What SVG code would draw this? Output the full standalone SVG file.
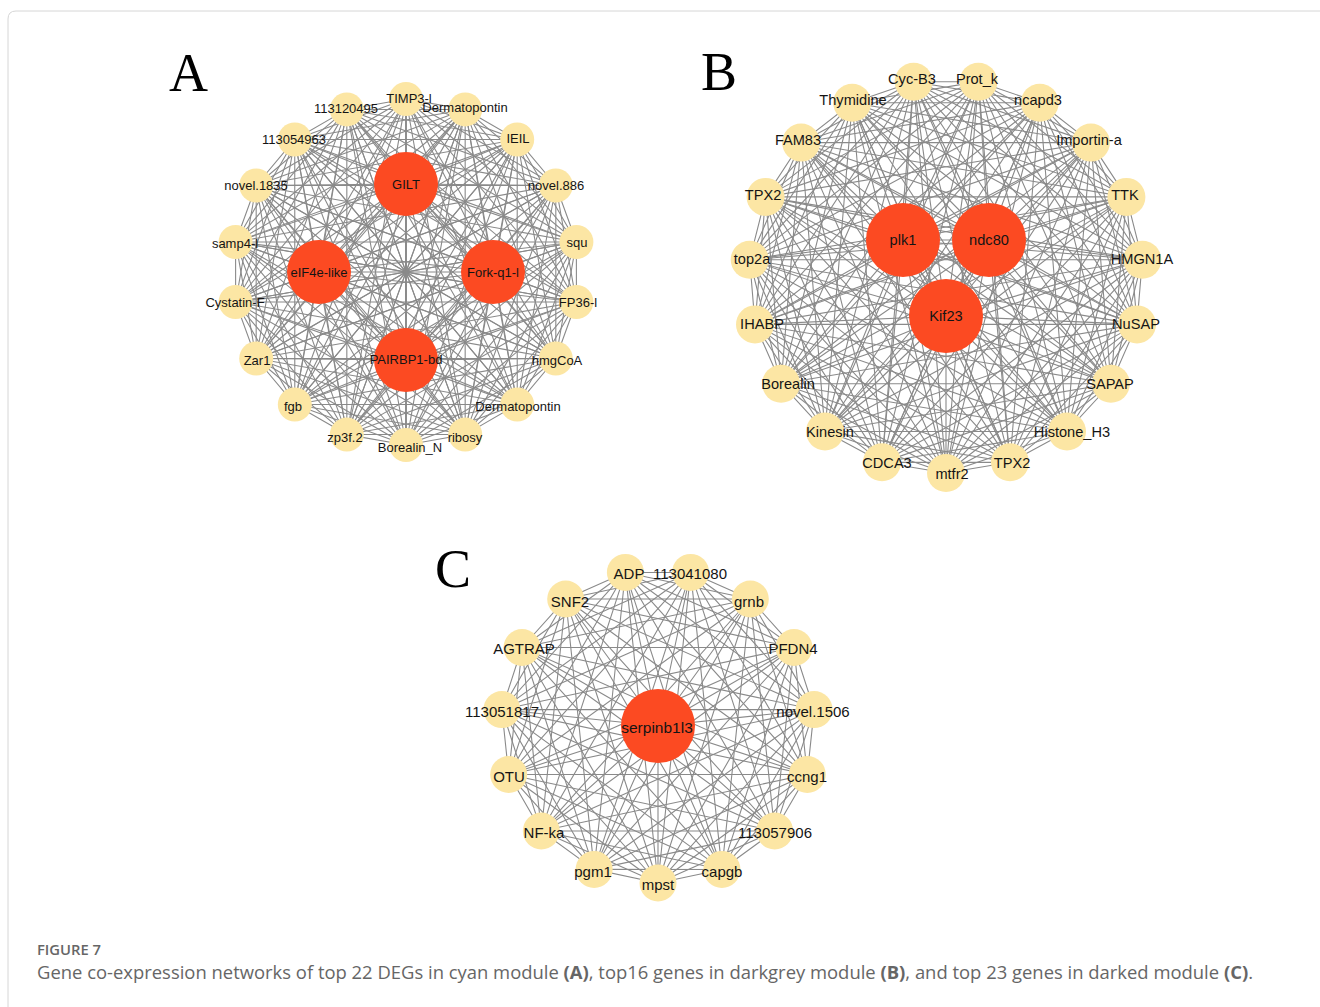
<svg xmlns="http://www.w3.org/2000/svg" xmlns:xlink="http://www.w3.org/1999/xlink" width="1320" height="1007" viewBox="0 0 1320 1007">
<style>
.e{fill:none;stroke:#8a8a8a;stroke-width:1.1}
.o{fill:#FCE6A4}
.i{fill:#FC4A22}
.la{font-family:"Liberation Sans",Arial,sans-serif;font-size:13px;text-anchor:middle;dominant-baseline:central;fill:#141414}
.lb{font-family:"Liberation Sans",Arial,sans-serif;font-size:14.6px;text-anchor:middle;dominant-baseline:central;fill:#141414}
.lc{font-family:"Liberation Sans",Arial,sans-serif;font-size:15px;text-anchor:middle;dominant-baseline:central;fill:#141414}
.big{font-family:"Liberation Serif","Times New Roman",serif;font-size:54px;fill:#000}
.cap{font-family:"Open Sans","Noto Sans",sans-serif;fill:#666}
</style>
<defs>
<path id="fanA" class="e" d="M0,-173L59.2,-162.6M0,-173L111.2,-132.5M0,-173L149.8,-86.5M0,-173L170.4,-30M0,-173L170.4,30M0,-173L149.8,86.5M0,-173L111.2,132.5M0,-173L59.2,162.6M0,-173L0,173"/>
<path id="starAG" class="e" d="M0,-88L0,-173M0,-88L59.2,-162.6M0,-88L111.2,-132.5M0,-88L149.8,-86.5M0,-88L170.4,-30M0,-88L170.4,30M0,-88L149.8,86.5M0,-88L111.2,132.5M0,-88L59.2,162.6M0,-88L0,173M0,-88L-59.2,162.6M0,-88L-111.2,132.5M0,-88L-149.8,86.5M0,-88L-170.4,30M0,-88L-170.4,-30M0,-88L-149.8,-86.5M0,-88L-111.2,-132.5M0,-88L-59.2,-162.6"/>
<path id="starAE" class="e" d="M-87,0L0,-173M-87,0L59.2,-162.6M-87,0L111.2,-132.5M-87,0L149.8,-86.5M-87,0L170.4,-30M-87,0L170.4,30M-87,0L149.8,86.5M-87,0L111.2,132.5M-87,0L59.2,162.6M-87,0L0,173M-87,0L-59.2,162.6M-87,0L-111.2,132.5M-87,0L-149.8,86.5M-87,0L-170.4,30M-87,0L-170.4,-30M-87,0L-149.8,-86.5M-87,0L-111.2,-132.5M-87,0L-59.2,-162.6"/>
<path id="fanB" class="e" d="M0,197L-64,186.3M0,197L-121,155.5M0,197L-164.9,107.7M0,197L-191,48.4M0,197L-196.3,-16.3M0,197L-180.4,-79.1M0,197L-144.9,-133.4M0,197L-93.8,-173.3M0,197L-32.4,-194.3"/>
<path id="starBP" class="e" d="M-43,-36L0,197M-43,-36L-64,186.3M-43,-36L-121,155.5M-43,-36L-164.9,107.7M-43,-36L-191,48.4M-43,-36L-196.3,-16.3M-43,-36L-180.4,-79.1M-43,-36L-144.9,-133.4M-43,-36L-93.8,-173.3M-43,-36L-32.4,-194.3M-43,-36L32.4,-194.3M-43,-36L93.8,-173.3M-43,-36L144.9,-133.4M-43,-36L180.4,-79.1M-43,-36L196.3,-16.3M-43,-36L191,48.4M-43,-36L164.9,107.7M-43,-36L121,155.5M-43,-36L64,186.3"/>
<path id="fanC" class="e" d="M0,0L0,157M0,157L-63.9,143.4M0,157L-116.7,105M0,157L-149.3,48.5M0,157L-156.1,-16.4M0,157L-136,-78.5M0,157L-92.3,-127M0,157L-32.6,-153.6"/>
</defs>
<rect width="1320" height="1007" fill="#fff"/>
<path d="M8,1007V19Q8,11 16,11H1320" fill="none" stroke="#d6d6d6" stroke-width="1"/>

<g id="connectors">
 <g id="edges-a" transform="translate(406,272)">
  <use href="#fanA"/><use href="#fanA" transform="rotate(20)"/><use href="#fanA" transform="rotate(40)"/><use href="#fanA" transform="rotate(60)"/><use href="#fanA" transform="rotate(80)"/><use href="#fanA" transform="rotate(100)"/><use href="#fanA" transform="rotate(120)"/><use href="#fanA" transform="rotate(140)"/><use href="#fanA" transform="rotate(160)"/><use href="#fanA" transform="rotate(180)"/><use href="#fanA" transform="rotate(200)"/><use href="#fanA" transform="rotate(220)"/><use href="#fanA" transform="rotate(240)"/><use href="#fanA" transform="rotate(260)"/><use href="#fanA" transform="rotate(280)"/><use href="#fanA" transform="rotate(300)"/><use href="#fanA" transform="rotate(320)"/><use href="#fanA" transform="rotate(340)"/>
  <use href="#starAG"/><use href="#starAG" transform="scale(1,-1)"/>
  <use href="#starAE"/><use href="#starAE" transform="scale(-1,1)"/>
  <path class="e" d="M0,-88L-87,0M0,-88L87,0M0,-88L0,88M-87,0L87,0M-87,0L0,88M87,0L0,88"/>
 </g>
 <g id="edges-b" transform="translate(946,276)">
  <use href="#fanB"/><use href="#fanB" transform="rotate(18.947)"/><use href="#fanB" transform="rotate(37.895)"/><use href="#fanB" transform="rotate(56.842)"/><use href="#fanB" transform="rotate(75.789)"/><use href="#fanB" transform="rotate(94.737)"/><use href="#fanB" transform="rotate(113.684)"/><use href="#fanB" transform="rotate(132.632)"/><use href="#fanB" transform="rotate(151.579)"/><use href="#fanB" transform="rotate(170.526)"/><use href="#fanB" transform="rotate(189.474)"/><use href="#fanB" transform="rotate(208.421)"/><use href="#fanB" transform="rotate(227.368)"/><use href="#fanB" transform="rotate(246.316)"/><use href="#fanB" transform="rotate(265.263)"/><use href="#fanB" transform="rotate(284.211)"/><use href="#fanB" transform="rotate(303.158)"/><use href="#fanB" transform="rotate(322.105)"/><use href="#fanB" transform="rotate(341.053)"/>
  <use href="#starBP"/><use href="#starBP" transform="scale(-1,1)"/>
  <path class="e" d="M0,40L0,197M0,40L-64,186.3M0,40L-121,155.5M0,40L-164.9,107.7M0,40L-191,48.4M0,40L-196.3,-16.3M0,40L-180.4,-79.1M0,40L-144.9,-133.4M0,40L-93.8,-173.3M0,40L-32.4,-194.3M0,40L32.4,-194.3M0,40L93.8,-173.3M0,40L144.9,-133.4M0,40L180.4,-79.1M0,40L196.3,-16.3M0,40L191,48.4M0,40L164.9,107.7M0,40L121,155.5M0,40L64,186.3"/>
  <path class="e" d="M-43,-36L43,-36M-43,-36L0,40M43,-36L0,40"/>
 </g>
 <g id="edges-c" transform="translate(658,726)">
  <use href="#fanC"/><use href="#fanC" transform="rotate(24)"/><use href="#fanC" transform="rotate(48)"/><use href="#fanC" transform="rotate(72)"/><use href="#fanC" transform="rotate(96)"/><use href="#fanC" transform="rotate(120)"/><use href="#fanC" transform="rotate(144)"/><use href="#fanC" transform="rotate(168)"/><use href="#fanC" transform="rotate(192)"/><use href="#fanC" transform="rotate(216)"/><use href="#fanC" transform="rotate(240)"/><use href="#fanC" transform="rotate(264)"/><use href="#fanC" transform="rotate(288)"/><use href="#fanC" transform="rotate(312)"/><use href="#fanC" transform="rotate(336)"/>
 </g>
</g>

<g id="panel-a">
 <text class="big" x="169" y="91">A</text>
 <g id="a-timp3"><circle class="o" cx="406" cy="99" r="17"/><text class="la" x="409" y="98">TIMP3-l</text></g>
 <g id="a-dermatopontin1"><circle class="o" cx="465.2" cy="109.4" r="17"/><text class="la" x="465" y="107">Dermatopontin</text></g>
 <g id="a-ieil"><circle class="o" cx="517.2" cy="139.5" r="17"/><text class="la" x="518" y="138">IEIL</text></g>
 <g id="a-novel886"><circle class="o" cx="555.8" cy="185.5" r="17"/><text class="la" x="556" y="185">novel.886</text></g>
 <g id="a-squ"><circle class="o" cx="576.4" cy="242" r="17"/><text class="la" x="577" y="242">squ</text></g>
 <g id="a-fp36"><circle class="o" cx="576.4" cy="302" r="17"/><text class="la" x="578" y="302">FP36-l</text></g>
 <g id="a-hmgcoa"><circle class="o" cx="555.8" cy="358.5" r="17"/><text class="la" x="557" y="360">hmgCoA</text></g>
 <g id="a-dermatopontin2"><circle class="o" cx="517.2" cy="404.5" r="17"/><text class="la" x="518" y="406">Dermatopontin</text></g>
 <g id="a-ribosy"><circle class="o" cx="465.2" cy="434.6" r="17"/><text class="la" x="465" y="437">ribosy</text></g>
 <g id="a-borealin-n"><circle class="o" cx="406" cy="445" r="17"/><text class="la" x="410" y="447">Borealin_N</text></g>
 <g id="a-zp3f2"><circle class="o" cx="346.8" cy="434.6" r="17"/><text class="la" x="345" y="437">zp3f.2</text></g>
 <g id="a-fgb"><circle class="o" cx="294.8" cy="404.5" r="17"/><text class="la" x="293" y="406">fgb</text></g>
 <g id="a-zar1"><circle class="o" cx="256.2" cy="358.5" r="17"/><text class="la" x="257" y="360">Zar1</text></g>
 <g id="a-cystatin"><circle class="o" cx="235.6" cy="302" r="17"/><text class="la" x="235" y="302">Cystatin-F</text></g>
 <g id="a-samp4"><circle class="o" cx="235.6" cy="242" r="17"/><text class="la" x="235" y="243">samp4-l</text></g>
 <g id="a-novel1835"><circle class="o" cx="256.2" cy="185.5" r="17"/><text class="la" x="256" y="185">novel.1835</text></g>
 <g id="a-113054963"><circle class="o" cx="294.8" cy="139.5" r="17"/><text class="la" x="294" y="139">113054963</text></g>
 <g id="a-113120495"><circle class="o" cx="346.8" cy="109.4" r="17"/><text class="la" x="346" y="108">113120495</text></g>
 <g id="a-gilt"><circle class="i" cx="406" cy="184" r="32"/><text class="la" x="406" y="184">GILT</text></g>
 <g id="a-eif4e"><circle class="i" cx="319" cy="272" r="32"/><text class="la" x="319" y="272">eIF4e-like</text></g>
 <g id="a-forkq1"><circle class="i" cx="493" cy="272" r="32"/><text class="la" x="493" y="272">Fork-q1-l</text></g>
 <g id="a-pairbp1"><circle class="i" cx="406" cy="360" r="32"/><text class="la" x="406" y="359">PAIRBP1-bd</text></g>
</g>

<g id="panel-b">
 <text class="big" x="701" y="90">B</text>
 <g id="b-mtfr2"><circle class="o" cx="946" cy="473" r="19"/><text class="lb" x="952" y="474">mtfr2</text></g>
 <g id="b-cdca3"><circle class="o" cx="882" cy="462.3" r="19"/><text class="lb" x="887" y="463">CDCA3</text></g>
 <g id="b-kinesin"><circle class="o" cx="825" cy="431.5" r="19"/><text class="lb" x="830" y="432">Kinesin</text></g>
 <g id="b-borealin"><circle class="o" cx="781.1" cy="383.7" r="19"/><text class="lb" x="788" y="384">Borealin</text></g>
 <g id="b-ihabp"><circle class="o" cx="755" cy="324.4" r="19"/><text class="lb" x="762" y="324">IHABP</text></g>
 <g id="b-top2a"><circle class="o" cx="749.7" cy="259.7" r="19"/><text class="lb" x="752" y="259">top2a</text></g>
 <g id="b-tpx2-left"><circle class="o" cx="765.6" cy="196.9" r="19"/><text class="lb" x="763" y="195">TPX2</text></g>
 <g id="b-fam83"><circle class="o" cx="801.1" cy="142.6" r="19"/><text class="lb" x="798" y="140">FAM83</text></g>
 <g id="b-thymidine"><circle class="o" cx="852.2" cy="102.7" r="19"/><text class="lb" x="853" y="100">Thymidine</text></g>
 <g id="b-cycb3"><circle class="o" cx="913.6" cy="81.7" r="19"/><text class="lb" x="912" y="79">Cyc-B3</text></g>
 <g id="b-protk"><circle class="o" cx="978.4" cy="81.7" r="19"/><text class="lb" x="977" y="79">Prot_k</text></g>
 <g id="b-ncapd3"><circle class="o" cx="1039.8" cy="102.7" r="19"/><text class="lb" x="1038" y="100">ncapd3</text></g>
 <g id="b-importin"><circle class="o" cx="1090.9" cy="142.6" r="19"/><text class="lb" x="1089" y="140">Importin-a</text></g>
 <g id="b-ttk"><circle class="o" cx="1126.4" cy="196.9" r="19"/><text class="lb" x="1125" y="195">TTK</text></g>
 <g id="b-hmgn1a"><circle class="o" cx="1142.3" cy="259.7" r="19"/><text class="lb" x="1142" y="259">HMGN1A</text></g>
 <g id="b-nusap"><circle class="o" cx="1137" cy="324.4" r="19"/><text class="lb" x="1136" y="324">NuSAP</text></g>
 <g id="b-sapap"><circle class="o" cx="1110.9" cy="383.7" r="19"/><text class="lb" x="1110" y="384">SAPAP</text></g>
 <g id="b-histone"><circle class="o" cx="1067" cy="431.5" r="19"/><text class="lb" x="1072" y="432">Histone_H3</text></g>
 <g id="b-tpx2-bottom"><circle class="o" cx="1010" cy="462.3" r="19"/><text class="lb" x="1012" y="463">TPX2</text></g>
 <g id="b-plk1"><circle class="i" cx="903" cy="240" r="37"/><text class="lb" x="903" y="240">plk1</text></g>
 <g id="b-ndc80"><circle class="i" cx="989" cy="240" r="37"/><text class="lb" x="989" y="240">ndc80</text></g>
 <g id="b-kif23"><circle class="i" cx="946" cy="316" r="37"/><text class="lb" x="946" y="316">Kif23</text></g>
</g>

<g id="panel-c">
 <text class="big" x="435" y="587">C</text>
 <g id="c-mpst"><circle class="o" cx="658" cy="883" r="18.5"/><text class="lc" x="658" y="884">mpst</text></g>
 <g id="c-pgm1"><circle class="o" cx="594.1" cy="869.4" r="18.5"/><text class="lc" x="593" y="871">pgm1</text></g>
 <g id="c-nfka"><circle class="o" cx="541.3" cy="831" r="18.5"/><text class="lc" x="544" y="832">NF-ka</text></g>
 <g id="c-otu"><circle class="o" cx="508.7" cy="774.5" r="18.5"/><text class="lc" x="509" y="776">OTU</text></g>
 <g id="c-113051817"><circle class="o" cx="501.9" cy="709.6" r="18.5"/><text class="lc" x="502" y="711">113051817</text></g>
 <g id="c-agtrap"><circle class="o" cx="522" cy="647.5" r="18.5"/><text class="lc" x="524" y="648">AGTRAP</text></g>
 <g id="c-snf2"><circle class="o" cx="565.7" cy="599" r="18.5"/><text class="lc" x="570" y="601">SNF2</text></g>
 <g id="c-adp"><circle class="o" cx="625.4" cy="572.4" r="18.5"/><text class="lc" x="629" y="573">ADP</text></g>
 <g id="c-113041080"><circle class="o" cx="690.6" cy="572.4" r="18.5"/><text class="lc" x="690" y="573">113041080</text></g>
 <g id="c-grnb"><circle class="o" cx="750.3" cy="599" r="18.5"/><text class="lc" x="749" y="601">grnb</text></g>
 <g id="c-pfdn4"><circle class="o" cx="794" cy="647.5" r="18.5"/><text class="lc" x="793" y="648">PFDN4</text></g>
 <g id="c-novel1506"><circle class="o" cx="814.1" cy="709.6" r="18.5"/><text class="lc" x="813" y="711">novel.1506</text></g>
 <g id="c-ccng1"><circle class="o" cx="807.3" cy="774.5" r="18.5"/><text class="lc" x="807" y="776">ccng1</text></g>
 <g id="c-113057906"><circle class="o" cx="774.7" cy="831" r="18.5"/><text class="lc" x="775" y="832">113057906</text></g>
 <g id="c-capgb"><circle class="o" cx="721.9" cy="869.4" r="18.5"/><text class="lc" x="722" y="871">capgb</text></g>
 <g id="c-serpinb1l3"><circle class="i" cx="658" cy="726" r="37"/><text class="lc" x="657" y="727" style="font-size:15.5px">serpinb1l3</text></g>
</g>

<g id="caption">
 <text class="cap" x="37" y="955" font-size="14" font-weight="600" textLength="64" lengthAdjust="spacingAndGlyphs">FIGURE 7</text>
 <text class="cap" x="37" y="979" font-size="17.5" textLength="1216" lengthAdjust="spacingAndGlyphs">Gene co-expression networks of top 22 DEGs in cyan module <tspan font-weight="bold">(A)</tspan>, top16 genes in darkgrey module <tspan font-weight="bold">(B)</tspan>, and top 23 genes in darked module <tspan font-weight="bold">(C)</tspan>.</text>
</g>
</svg>
